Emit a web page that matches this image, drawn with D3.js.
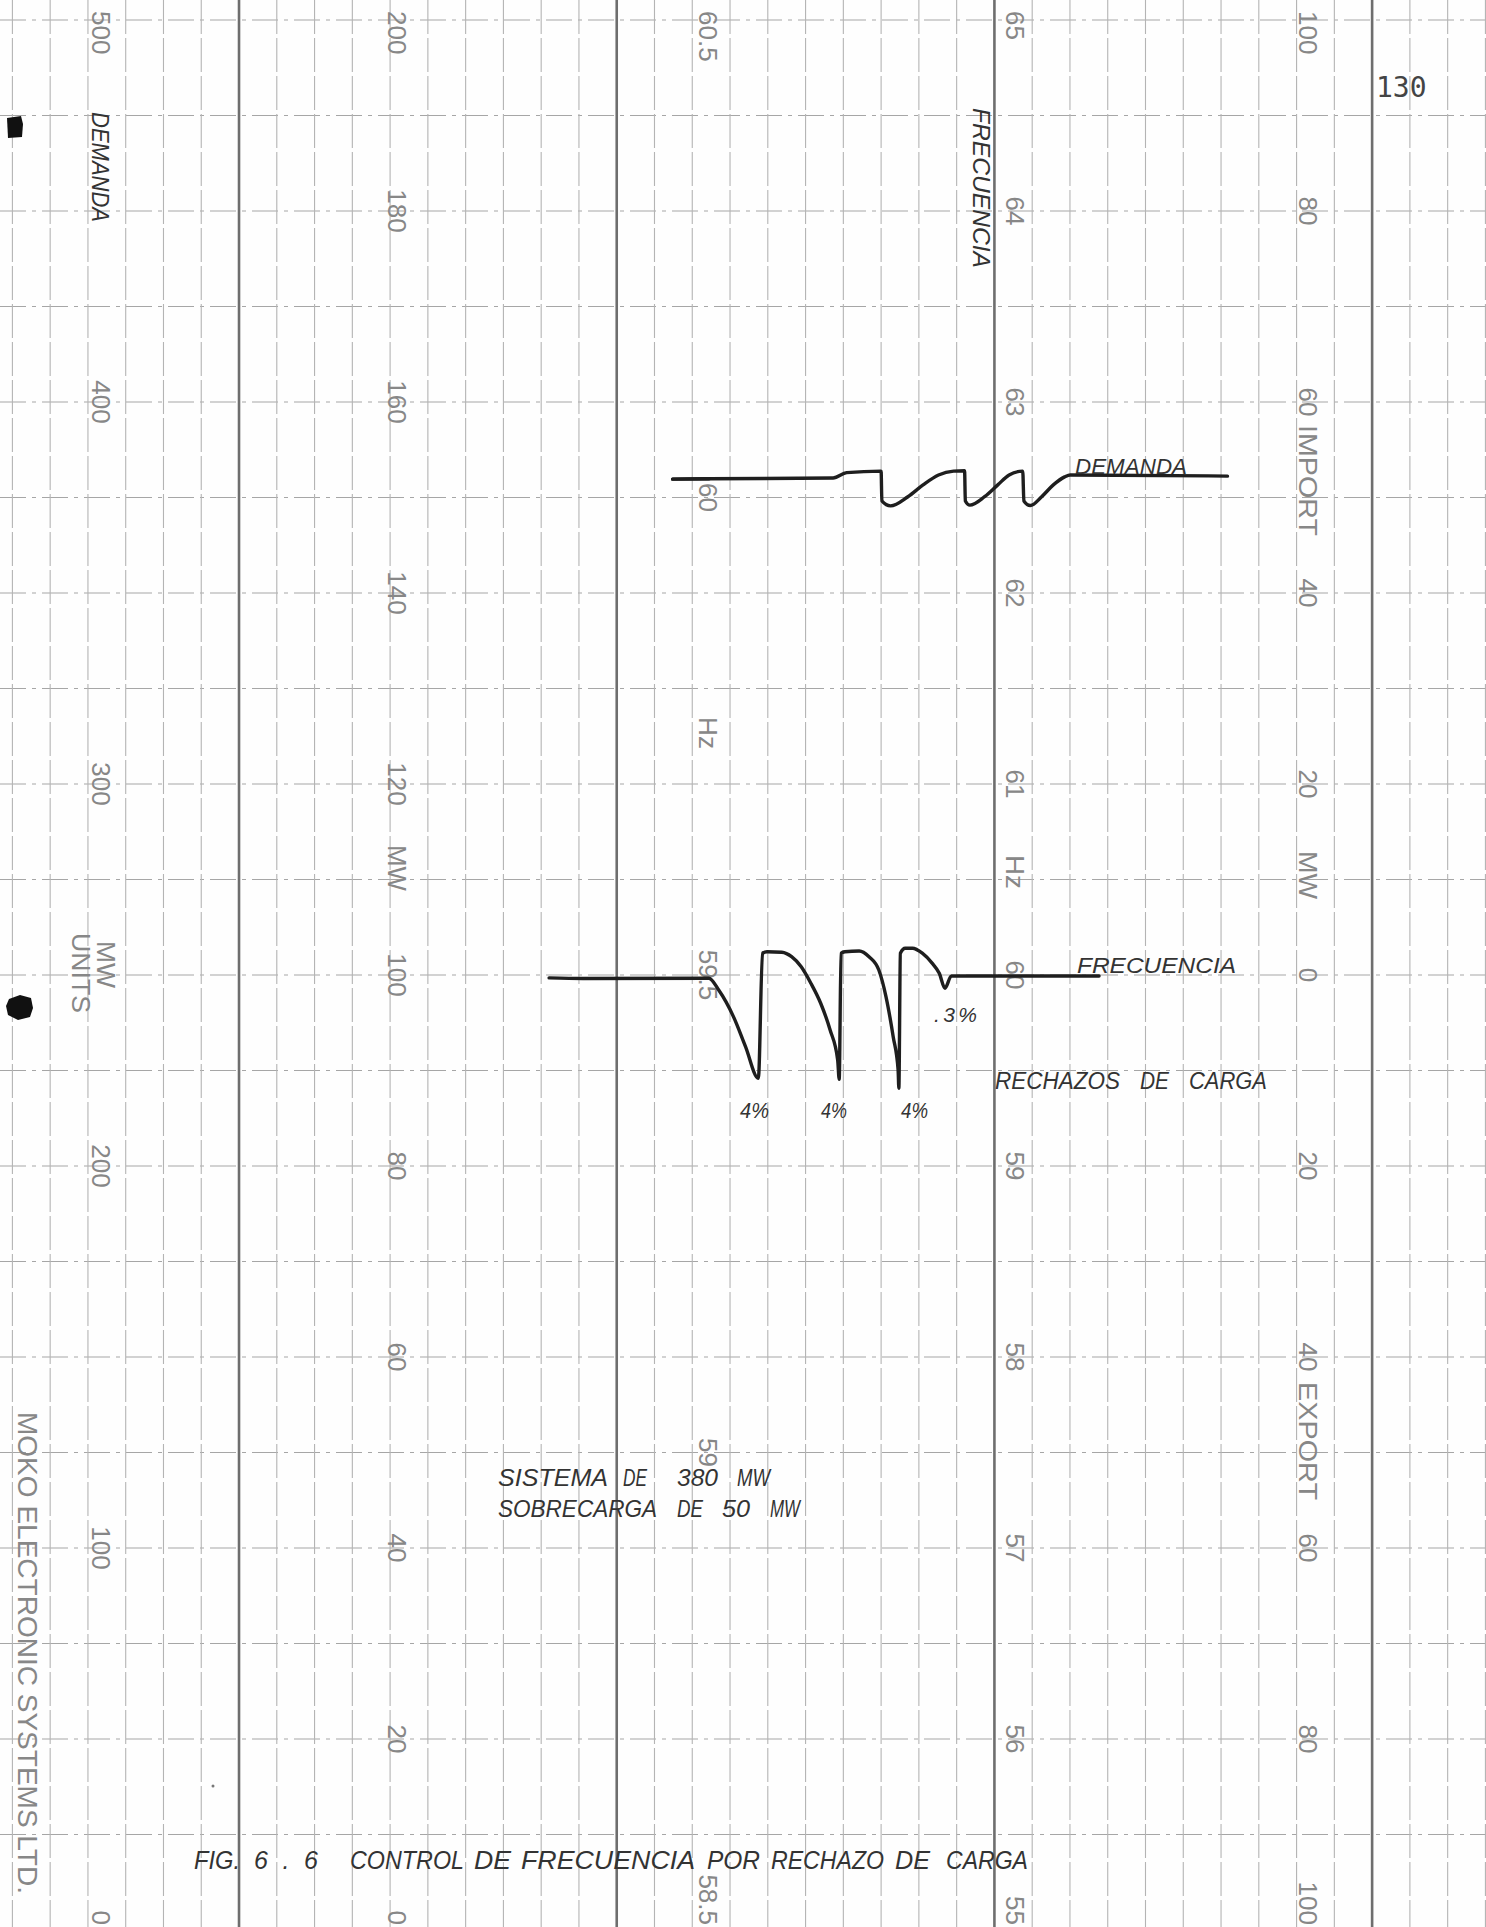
<!DOCTYPE html>
<html lang="es">
<head>
<meta charset="UTF-8" />
<title>Fig. 6.6 Control de frecuencia por rechazo de carga</title>
<script src="https://d3js.org/d3.v7.min.js"></script>
<style>
  html, body { margin: 0; padding: 0; background: #fff; }
  svg { display: block; }
  .printed { font-family: "Liberation Sans", Arial, sans-serif; fill: #878787; }
  .hand { font-family: "Liberation Sans", Arial, sans-serif; font-style: italic; fill: #333; }
  .trace { fill: none; stroke: #1e1e1e; stroke-width: 3.4; stroke-linejoin: round; stroke-linecap: round; }
</style>
</head>
<body>
<svg id="chart"></svg>
<script>
const W = 1486, H = 1927;

// printed scales of the recorder paper
const demandTicks = [500, 400, 300, 200, 100, 0];
const mw200Ticks = [200, 180, 160, 140, 120, 100, 80, 60, 40, 20, 0];
const hz60Ticks = [60.5, 60, 59.5, 59, 58.5];
const hz65Ticks = [65, 64, 63, 62, 61, 60, 59, 58, 57, 56, 55];
const tieTicks = [100, 80, 60, 40, 20, 0, -20, -40, -60, -80, -100];

// DEMANDA trace: time in chart divisions, MW on the 0-500 scale
const demandT = [17.48, 18.45, 21.73, 22.09, 23.00, 23.02, 23.25, 23.71, 24.11, 24.52, 24.92,
  25.21, 25.23, 25.35, 25.74, 26.09, 26.39, 26.75, 26.78, 26.95, 27.25, 27.56, 27.86, 28.01, 32.17];
const demandMW = [379.8, 379.9, 380.1, 381.5, 381.9, 374.1, 372.8, 375.2, 378.3, 380.9, 381.9,
  382.0, 374.1, 373.0, 375.2, 378.3, 380.9, 381.9, 374.1, 372.9, 375.2, 378.3, 380.4, 380.9, 380.6];

// FRECUENCIA trace: time in chart divisions, Hz on the 55-65 scale
const freqT = [14.21, 15.11, 18.44, 18.70, 19.09, 19.41, 19.75, 19.86, 19.98, 20.37, 20.63, 20.88,
  21.14, 21.40, 21.65, 21.85, 21.89, 21.94, 22.04, 22.42, 22.68, 22.94, 23.13, 23.32, 23.45, 23.47,
  23.51, 23.64, 23.83, 24.09, 24.35, 24.54, 24.69, 24.86, 28.77];
const freqHz = [59.985, 59.982, 59.983, 59.921, 59.782, 59.625, 59.459, 60.114, 60.122, 60.119, 60.096, 60.044,
  59.957, 59.852, 59.712, 59.555, 59.454, 60.114, 60.122, 60.126, 60.096, 60.026, 59.886, 59.677, 59.503, 59.407,
  60.114, 60.140, 60.140, 60.114, 60.062, 60.009, 59.931, 59.995, 59.995];

const svg = d3.select("#chart").attr("width", W).attr("height", H);
svg.append("rect").attr("width", W).attr("height", H).attr("fill", "#fefefe");

const x = d3.scaleLinear().domain([0, 39]).range([12.4, 12.4 + 39 * 37.77]);
const gridY = d3.scaleLinear().domain([0, 20]).range([20, 1930]);
const yDemand = d3.scaleLinear().domain([0, 500]).range([1930, 20]);
const y200 = d3.scaleLinear().domain([0, 200]).range([1930, 20]);
const y60 = d3.scaleLinear().domain([58.5, 60.5]).range([1930, 20]);
const yFreq = d3.scaleLinear().domain([55, 65]).range([1930, 20]);
const yTie = d3.scaleLinear().domain([-100, 100]).range([1930, 20]);

// grid
const grid = svg.append("g");
grid.selectAll("line.h").data(d3.range(0, 20)).join("line")
  .attr("x1", 0).attr("x2", W)
  .attr("y1", d => gridY(d)).attr("y2", d => gridY(d))
  .attr("stroke", "#a6a6a6").attr("stroke-width", 1.2)
  .attr("stroke-dasharray", "26,6,4,6");
grid.selectAll("line.v").data(d3.range(0, 40)).join("line")
  .attr("x1", d => x(d)).attr("x2", d => x(d))
  .attr("y1", 0).attr("y2", H)
  .attr("stroke", d => (d - 6) % 10 === 0 ? "#6e6e6e" : "#b4b4b4")
  .attr("stroke-width", d => (d - 6) % 10 === 0 ? 2.6 : 1.1)
  .attr("stroke-dasharray", d => (d - 6) % 10 === 0 ? null : "34,4");

// printed scale labels, rotated like the paper
function scaleLabels(ticks, scale, cx, fmt) {
  svg.append("g").selectAll("text").data(ticks).join("text")
    .attr("class", "printed")
    .attr("font-size", 26)
    .attr("dominant-baseline", "central")
    .attr("text-anchor", d => scale(d) < 40 ? "start" : scale(d) > 1900 ? "end" : "middle")
    .attr("transform", d => {
      const p = scale(d) < 40 ? 11 : scale(d) > 1900 ? 1925 : scale(d);
      return `translate(${cx},${p}) rotate(90)`;
    })
    .text(fmt || (d => d));
}
scaleLabels(demandTicks, yDemand, 101);
scaleLabels(mw200Ticks, y200, 397);
scaleLabels(hz60Ticks, y60, 708);
scaleLabels(hz65Ticks, yFreq, 1015);
scaleLabels(tieTicks, yTie, 1308, d => Math.abs(d));

// fit a text to a target length: stretch glyphs a little, else spread the letters
function fit(sel, len) {
  sel.each(function (d) {
    const L = typeof len === "function" ? len(d) : len;
    const n = this.getComputedTextLength();
    d3.select(this).attr("textLength", L)
      .attr("lengthAdjust", L / n < 1.16 ? "spacingAndGlyphs" : "spacing");
  });
}

function vtext(txt, cx, y0, cls, size, len) {
  const t = svg.append("text").attr("class", cls)
    .attr("font-size", size)
    .attr("dominant-baseline", "central")
    .attr("transform", `translate(${cx},${y0}) rotate(90)`)
    .text(txt);
  if (len) fit(t, len);
}
vtext("MW", 397, 845, "printed", 26, 46);
vtext("Hz", 708, 717, "printed", 26, 32);
vtext("Hz", 1015, 855, "printed", 26, 34);
vtext("MW", 1308, 851, "printed", 26, 48);
vtext("IMPORT", 1308, 425, "printed", 26, 111);
vtext("EXPORT", 1308, 1382, "printed", 26, 118);
vtext("MW", 106, 941, "printed", 26, 47);
vtext("UNITS", 81, 933, "printed", 26, 80);
vtext("MOKO ELECTRONIC SYSTEMS LTD.", 27, 1412, "printed", 27, 482);
vtext("DEMANDA", 100, 112, "hand", 24, 110);
vtext("FRECUENCIA", 981, 108, "hand", 24, 160);

// page number
svg.append("text").attr("x", 1376).attr("y", 97)
  .attr("font-family", "'DejaVu Sans Mono', monospace").attr("font-size", 28)
  .attr("fill", "#444").text("130");

// traces
const line = d3.line().x(d => x(d[0])).y(d => d[1]).curve(d3.curveMonotoneX);
const demandPts = demandT.map((t, i) => [t, yDemand(demandMW[i])]);
const freqPts = freqT.map((t, i) => [t, yFreq(freqHz[i])]);
svg.append("path").attr("class", "trace").attr("d", line(demandPts));
svg.append("path").attr("class", "trace").attr("stroke-width", 8).attr("d", line(demandPts.slice(0, 2)));
svg.append("path").attr("class", "trace").attr("d", line(freqPts));

// hand-lettered annotations, word by word: [word, left, right]
const notes = [
  { y: 474, s: 22, w: [["DEMANDA", 1075, 1187]] },
  { y: 973, s: 22, w: [["FRECUENCIA", 1077, 1236]] },
  { y: 1022, s: 21, w: [[".3%", 934, 977]] },
  { y: 1089, s: 23, w: [["RECHAZOS", 995, 1120], ["DE", 1140, 1169], ["CARGA", 1189, 1267]] },
  { y: 1118, s: 22, w: [["4%", 740, 769], ["4%", 821, 847], ["4%", 901, 928]] },
  { y: 1486, s: 24, w: [["SISTEMA", 498, 608], ["DE", 623, 647], ["380", 677, 718], ["MW", 737, 770]] },
  { y: 1517, s: 24, w: [["SOBRECARGA", 498, 657], ["DE", 677, 703], ["50", 722, 750], ["MW", 770, 800]] },
  { y: 1869, s: 25, w: [["FIG.", 194, 240], ["6.6", 254, 318], ["CONTROL", 350, 464], ["DE", 474, 511],
    ["FRECUENCIA", 521, 695], ["POR", 707, 760], ["RECHAZO", 771, 884], ["DE", 895, 930], ["CARGA", 946, 1028]] }
];
const words = notes.flatMap(n => n.w.map(w => ({ t: w[0], x0: w[1], x1: w[2], y: n.y, s: n.s })));
svg.append("g").selectAll("text").data(words).join("text")
  .attr("class", "hand")
  .attr("x", d => d.x0).attr("y", d => d.y)
  .attr("font-size", d => d.s)
  .text(d => d.t)
  .call(fit, d => d.x1 - d.x0);

// punch marks on the left edge of the scan
svg.append("path").attr("fill", "#111")
  .attr("d", "M7,118 L21,116 L23,124 L22,137 L8,138 Z");
svg.append("path").attr("fill", "#111")
  .attr("d", "M9,999 L20,995 L31,998 L33,1008 L30,1017 L18,1020 L8,1015 L6,1006 Z");
svg.append("circle").attr("cx", 213).attr("cy", 1786).attr("r", 1.5).attr("fill", "#777");
</script>
</body>
</html>
